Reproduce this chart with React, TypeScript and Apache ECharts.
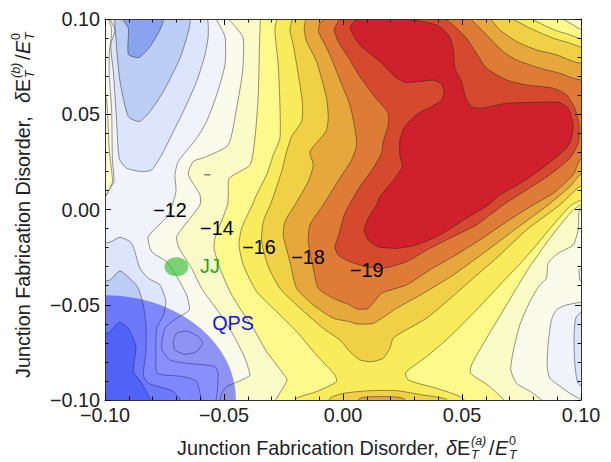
import React, { useEffect, useRef } from "react";
import * as echarts from "echarts";

// All contour coordinates are in thousandths of the axis unit (delta E / E0 x 1000).
const F = 105;
const bandPaleBlueLeft = [[-53.8,105],[-53.8,101.3],[-49.6,90.8],[-49.6,75.9],[-53.1,60.2],[-57.3,46.2],[-61.5,37.4],[-69.2,25.2],[-70.6,18.2],[-70.2,9.4],[-73.4,-2.9],[-81.8,-14.2],[-80.4,-22.1],[-74.1,-27.4],[-70.2,-34.4],[-65.7,-44.9],[-64.6,-52.7],[-69.9,-57.1],[-74.8,-62.4],[-76.2,-72.9],[-72.7,-79],[-65.7,-80.7],[-53.8,-82.5],[-52.4,-86.9],[-55.2,-F],[-F,-F],[-F,F]];
const stripWhiteLeft = [[-99.3,101.3],[-97.2,94.3],[-98.2,82],[-98.2,69.8],[-97.2,52.3],[-96.9,26],[-96.2,14.7],[-97.9,11.1],[-100,6.8],[-F,6.8],[-F,101.3]];
const stripCreamLeft = [[-F,60.2],[-100,60.2],[-99,52.3],[-98.2,31.3],[-96.8,14.7],[-97.9,11.5],[-100,6.8],[-F,6.8]];
const lightBlueTop = [[-57.7,101.3],[-56.6,91.7],[-58,81.2],[-61.5,67.2],[-67.1,51.4],[-71.3,40.9],[-76.2,28.6],[-80.4,20.8],[-84.6,19.9],[-90.9,21.7],[-94,26.6],[-95.1,46.2],[-96.5,72.4],[-97.6,86.4],[-95.8,94.3],[-97.9,101.3]];
const midBlueTop = [[-95.1,101.3],[-95.4,89.9],[-93.7,67.2],[-90.2,48.8],[-85.7,46.2],[-81.1,51.4],[-75.5,61.9],[-68.5,79.4],[-64.6,95.2],[-64.6,101.3]];
const deepBlueTop = [[-93,101.3],[-90.2,95.2],[-90.2,81.5],[-85.7,79.8],[-81.1,85.5],[-76.9,94.3],[-75.5,101.3]];
const lightBlueLow = [[-F,-19.5],[-97.9,-17.2],[-93.7,-14.6],[-88.8,-17.7],[-85.3,-30.9],[-81.8,-36.1],[-76.9,-39.6],[-74.4,-48.4],[-75.5,-55.4],[-78.3,-62.4],[-78.6,-77.2],[-78,-86],[-67.1,-87.7],[-61.5,-90.4],[-60.1,-F],[-F,-F]];
const midBlueLow = [[-F,-39.6],[-97.9,-37],[-93.7,-32.3],[-88.1,-37.9],[-86,-41.4],[-83.9,-50.1],[-82.8,-60.6],[-82.8,-74.6],[-83.9,-86.9],[-81.8,-91.2],[-71.3,-95.6],[-66.4,-F],[-F,-F]];
const deepBlueLow = [[-F,-69.4],[-97.9,-64.1],[-94,-59.2],[-90.2,-62.4],[-87,-72],[-88.1,-85.1],[-84.6,-91.2],[-79.7,-F],[-F,-F]];
const whiteIsland = [[-71.3,-69.4],[-69.9,-65],[-65.7,-63.8],[-60.8,-66.7],[-59,-70.2],[-61.5,-74.6],[-66.4,-76],[-70.6,-73.7]];
const paleBlueRight = [[F,-49.2],[93.9,-50.1],[89.7,-52.7],[87.6,-58],[86.2,-70.2],[85.8,-82.5],[86.9,-88.6],[90.4,-92.1],[95.3,-96.5],[99.5,-99.5],[F,-F]];
const paleBlueEdge = [[F,-28.2],[99.1,-31.7],[99.5,-37],[F,-40.5]];
const lightBlueRight = [[F,-51],[98.1,-56.2],[97.1,-66.7],[97.4,-80.7],[98.8,-91.2],[F,-96.5]];
const creamBand = [[-48.9,F],[-48.9,101.3],[-44.7,95.2],[-41.9,89.9],[-42.2,72.4],[-44.7,53.2],[-48.2,33.9],[-57.3,27.8],[-62.9,25.2],[-65,18.2],[-60.1,7.7],[-60.1,2.4],[-69.9,-14.2],[-68.8,-20.4],[-63.6,-30.9],[-59.4,-41.4],[-52.4,-53.6],[-46.1,-65.8],[-41.2,-78.1],[-39.1,-86.9],[-40.5,-88.2],[-44.7,-90.7],[-48.9,-93],[-51,-96.5],[-51.4,-F],[86.9,-F],[79.9,-96.5],[72.9,-91.2],[70.5,-84.2],[71.5,-74.6],[74.3,-60.6],[78.5,-48.4],[82.7,-39.6],[85.5,-36.1],[86.2,-28.2],[90.4,-23],[96.7,-18.6],[98.8,-10.7],[99.5,0.6],[F,3],[F,F]];
const lemonBand = [[-33.8,101.3],[-34.9,93.4],[-35.6,60.2],[-37,37.4],[-39.1,23.4],[-47.8,16.4],[-48.2,7.7],[-48.5,2.4],[-53.8,-15.1],[-54.2,-20.4],[-51.7,-30.9],[-47.5,-43.1],[-43.3,-51.9],[-37.7,-62.4],[-32.1,-74.6],[-23.7,-88.6],[-23.7,-90.4],[-29.3,-F],[70.1,-F],[61.7,-93],[53.6,-86],[54,-81.6],[60.3,-67.6],[68.7,-50.1],[77.1,-32.6],[86.9,-15.1],[96,-1.1],[99.9,2.4],[F,5],[F,90.6],[98.7,95.3],[95.3,97.9],[89,101.6]];
const yellowBand = [[-26.5,101.3],[-28.6,95.2],[-27.2,75.9],[-26.5,54.9],[-26.5,37.4],[-29.3,28.6],[-32.1,18.2],[-36.3,7.7],[-38.1,2.4],[-42.6,-9.9],[-43.7,-18.6],[-41.9,-29.1],[-36.3,-43.1],[-27.9,-53.6],[-19.5,-64.1],[-11.1,-76.4],[-3.4,-86.9],[-2.7,-90.4],[-11.1,-95.6],[-19.5,-99.1],[-22.3,-F],[54.7,-F],[49.1,-98.2],[39.3,-93.9],[27.4,-89.5],[26.3,-85.6],[35.1,-77.2],[44.9,-66.7],[54.7,-54.5],[65.9,-39.6],[77.1,-24.7],[88.3,-8.1],[96,2.4],[F,9],[F,85.5],[95.3,91.7],[89.7,93.8],[84.1,96.9],[76.4,101.3]];
const goldBand = [[-20.2,101.3],[-22.3,94.3],[-20.9,86.4],[-18.1,65.4],[-17,54.9],[-17.4,46.2],[-21.6,38.3],[-23.7,30.4],[-25.8,19.9],[-30,4.2],[-33.5,-6.4],[-34.2,-16.9],[-31.4,-30],[-26.5,-41.4],[-19.5,-50.1],[-8.3,-62.4],[-1.3,-68.5],[2.9,-74.6],[7.1,-79],[12,-79.9],[16.9,-78.1],[19.7,-72.9],[21.1,-67.6],[25.3,-64.1],[35.1,-57.1],[43.5,-48.4],[54.7,-36.1],[65.9,-23.9],[77.1,-10.7],[91.1,2.4],[99.5,12],[F,13],[F,81.2],[95.3,87.3],[88.3,89.9],[78.5,95.2],[68,101.3]];
const amberBand = [[-14.6,101.3],[-16.3,95.2],[-15.3,88.2],[-11.1,77.7],[-6.9,58.4],[-6.2,47.9],[-7.2,40.9],[-13.9,30.4],[-12.5,23.4],[-14.6,14.7],[-20.2,2.4],[-24.4,-6.4],[-25.1,-13.4],[-22.3,-27.4],[-19.5,-41.4],[-12.5,-50.1],[-4.1,-57.1],[2.9,-58.9],[5.7,-60.1],[12.7,-59.7],[22.5,-51.9],[33.7,-44],[46.3,-34.4],[58.9,-23],[72.9,-9.9],[86.2,2.4],[95.3,12],[99.5,18.2],[F,22],[F,74.2],[96.7,77.7],[89.7,81.2],[81.3,83.8],[72.9,88.2],[65.9,94.3],[60.3,101.3]];
const orangeBand = [[-6.2,101.3],[-9.7,97.8],[-10.3,93.4],[-8.3,88.2],[-5.5,81.2],[-1.3,68],[2.9,54.9],[5,42.6],[5.7,33.9],[3.6,26],[-1.3,16.4],[-8.3,2.4],[-13.9,-8.1],[-14.6,-16.9],[-12.5,-30.8],[-10.4,-41.4],[-4.1,-46.6],[2.9,-50.1],[5.7,-52.2],[10.6,-51.9],[16.2,-44],[26.7,-39.6],[36.5,-31.7],[46.3,-24.7],[57.5,-16],[68.7,-6.4],[79.9,2.4],[88.3,8.5],[96.7,18.2],[99.5,26],[F,32.1],[F,65.4],[96.7,68.9],[91.1,71.5],[82.7,74.2],[72.9,78.5],[67.3,82.9],[61.7,89.9],[56.8,96],[51.9,101.3]];
const scarletBand = [[-0.2,101.3],[-2,98.7],[-3.7,94.3],[-2,88.2],[2.9,78.5],[7.1,69.8],[12.7,60.2],[19,50.5],[19,44.4],[16.9,35.6],[16.2,29.5],[12.7,21.7],[7.1,12],[0.8,-2],[-2,-14.2],[-3.4,-19.5],[-2,-23.9],[2.9,-27.4],[9.9,-30],[16.9,-30.9],[26.7,-27.4],[36.5,-20.4],[46.3,-14.2],[56.1,-8.1],[67.3,2.4],[77.1,10.3],[86.9,18.2],[95.3,26.9],[98.8,34.8],[99.2,44.4],[97.4,53.2],[93.9,60.2],[88.3,63.7],[77.1,65.4],[68.7,68],[60.3,74.2],[56.1,82],[51.9,89.9],[46.3,96.9],[40.7,101.3]];
const redCore = [[2.9,95.2],[5,99],[9.2,100],[19.7,100.8],[29.5,99.5],[39.3,96.9],[44.2,91.7],[46.3,84.7],[47,74.2],[49.8,67.2],[51.6,58.4],[54,54],[58.2,53.2],[68.7,55.8],[82.7,56.3],[90.4,56.3],[94.6,53.2],[96.7,44.4],[96,37.4],[93.9,32.2],[85.5,23.4],[75.7,14.7],[65.9,7.6],[61,2.4],[51.9,-4.6],[40.7,-13.4],[30.9,-18.6],[22.5,-20.4],[14.8,-19.5],[10.6,-16],[8.9,-10.7],[10.6,-4.6],[14.1,2.4],[15.5,6.8],[21.8,16.4],[24.9,22.5],[23.9,28.6],[23.9,36.5],[26,43.5],[31.6,50.5],[37.2,54],[41.4,57.5],[42.5,61.9],[41.1,66.3],[37.9,67.9],[32.3,67.2],[26,66.8],[21.8,69.8],[15.5,77.7],[7.1,86.4]];
const bottomGold = [[-5.5,-F],[-5.5,-99.1],[0.1,-96.5],[11.3,-95.1],[22.5,-95.1],[33.7,-97.4],[43.5,-99.6],[44.9,-F]];
const bottomAmber = [[5.7,-F],[7.1,-99.1],[15.5,-98.2],[25.3,-99.1],[28.1,-F]];
const tinyContour = [[-58.3,18.2],[-55.7,18.2]];

const bandColors = {
  deep: "#8aa3ef", mid: "#bccdf6", light: "#dce5fb", pale: "#f0f4fa", white: "#fafbeb",
  cream: "#fbfbc8", lemon: "#fdf98a", yellow: "#f9ec5c", gold: "#f0d045", amber: "#e6a83d",
  orange: "#de7b36", scarlet: "#d54a2e", red: "#cf212b",
};
const layers: [number[][], string][] = [
  [bandPaleBlueLeft, bandColors.pale], [stripWhiteLeft, bandColors.white], [stripCreamLeft, bandColors.cream],
  [lightBlueTop, bandColors.light], [midBlueTop, bandColors.mid], [deepBlueTop, bandColors.deep],
  [lightBlueLow, bandColors.light], [midBlueLow, bandColors.mid], [deepBlueLow, bandColors.deep],
  [whiteIsland, bandColors.white], [paleBlueRight, bandColors.pale], [paleBlueEdge, bandColors.pale],
  [lightBlueRight, bandColors.light], [creamBand, bandColors.cream], [lemonBand, bandColors.lemon],
  [yellowBand, bandColors.yellow], [goldBand, bandColors.gold], [amberBand, bandColors.amber],
  [orangeBand, bandColors.orange], [scarletBand, bandColors.scarlet], [redCore, bandColors.red],
  [bottomGold, bandColors.gold], [bottomAmber, bandColors.amber], [tinyContour, bandColors.white],
];

// [x, y, radius, colour]
const discs: [number, number, number, string][] = [
  [-0.1, -0.1, 0.055, "rgba(10,20,255,0.45)"],
  [-0.07, -0.03, 0.005, "rgba(60,190,60,0.68)"],
];
// [text, x, y, colour]
const notes: [string, number, number, string][] = [
  ["\u221212", -0.0727, -0.0003, "#000"],
  ["\u221214", -0.053, -0.0097, "#000"],
  ["\u221216", -0.0353, -0.0197, "#000"],
  ["\u221218", -0.0147, -0.0249, "#000"],
  ["\u221219", 0.01, -0.0318, "#000"],
  ["JJ", -0.0559, -0.0296, "#1aa81a"],
  ["QPS", -0.0462, -0.0596, "#1414f0"],
];

const FONT = '"Liberation Sans", Arial, sans-serif';
const TITLE = 19.8;
const SMALL = 12.5;
const titleParts: [string, number, number, boolean, number, boolean][] = [
  ["Junction Fabrication Disorder,", 0, 0, false, TITLE, false],
  ["\u03b4", 269, 0, true, TITLE, true],
  ["E", 280, 0, false, TITLE, true],
  ["T", 294, 3, true, SMALL, true],
  ["/", 312, 0, false, TITLE, true],
  ["E", 318, 0, true, TITLE, true],
  ["T", 332, 3, true, SMALL, true],
  ["0", 332, -11, false, SMALL, true],
];

const fmt = (v: number) => (v < 0 ? "\u2212" : "") + Math.abs(v).toFixed(2);

function titleGroup(x: number, y: number, rotation: number, sup: string, shift: number) {
  const parts = [...titleParts, [sup, 294, -11, true, SMALL, true] as [string, number, number, boolean, number, boolean]];
  return {
    type: "group", x, y, rotation,
    children: parts.map(([text, dx, dy, italic, size, tail]) => ({
      type: "text", x: dx + (tail ? shift : 0), y: dy,
      style: { text, font: `${italic ? "italic " : ""}${size}px ${FONT}`, fill: "#222", verticalAlign: "bottom" },
    })),
  };
}

export default function App() {
  const ref = useRef<HTMLDivElement>(null);
  useEffect(() => {
    const chart = echarts.init(ref.current!, undefined, { renderer: "svg" });
    const tick = (extra: object) => ({
      type: "value", min: -0.1, max: 0.1, interval: 0.05, z: 10,
      splitLine: { show: false },
      axisLine: { show: true, onZero: false, lineStyle: { color: "#333", width: 1 } },
      axisTick: { show: true, inside: true, length: 6, lineStyle: { color: "#111" } },
      minorTick: { show: true, splitNumber: 5, length: 3.5, lineStyle: { color: "#111" } },
      ...extra,
    });
    const labels = { color: "#222", fontFamily: FONT, fontSize: 19.8, formatter: fmt, margin: 5, showMinLabel: true, showMaxLabel: true };
    chart.setOption({
      animation: false,
      backgroundColor: "#fff",
      grid: { left: 105, right: 30, top: 19, bottom: 62, show: true, backgroundColor: bandColors.white, borderWidth: 0 },
      xAxis: [tick({ position: "bottom", axisLabel: labels }), tick({ position: "top", axisLabel: { show: false } })],
      yAxis: [tick({ position: "left", axisLabel: labels }), tick({ position: "right", axisLabel: { show: false } })],
      series: [
        {
          type: "custom", coordinateSystem: "cartesian2d", clip: true, silent: true, z: 2,
          data: layers.map((_, i) => [i]),
          renderItem: (p: any, api: any) => {
            const [pts, fill] = layers[p.dataIndex];
            return {
              type: "polygon",
              shape: { points: pts.map(([x, y]) => api.coord([x / 1000, y / 1000])), smooth: pts.length > 4 ? 0.2 : 0 },
              style: { fill, stroke: "rgba(30,30,30,0.47)", lineWidth: 1 },
            };
          },
        },
        {
          type: "custom", coordinateSystem: "cartesian2d", clip: true, silent: true, z: 3,
          data: discs.map((_, i) => [i]),
          renderItem: (p: any, api: any) => {
            const [x, y, r, fill] = discs[p.dataIndex];
            const c = api.coord([x, y]);
            const s = api.size([r, r]);
            return { type: "ellipse", shape: { cx: c[0], cy: c[1], rx: s[0], ry: s[1] }, style: { fill, stroke: "none" } };
          },
        },
        {
          type: "custom", coordinateSystem: "cartesian2d", clip: false, silent: true, z: 4,
          data: notes.map((_, i) => [i]),
          renderItem: (p: any, api: any) => {
            const [text, x, y, fill] = notes[p.dataIndex];
            const c = api.coord([x, y]);
            return { type: "text", x: c[0], y: c[1], style: { text, fill, font: `19.8px ${FONT}`, align: "center", verticalAlign: "middle" } };
          },
        },
      ],
      graphic: [titleGroup(177, 458, 0, "(a)", 0), titleGroup(33, 378, Math.PI / 2, "(b)", 6)],
    });
    return () => chart.dispose();
  }, []);
  return <div ref={ref} style={{ position: "absolute", left: 0, top: 0, width: 611, height: 462 }} />;
}
